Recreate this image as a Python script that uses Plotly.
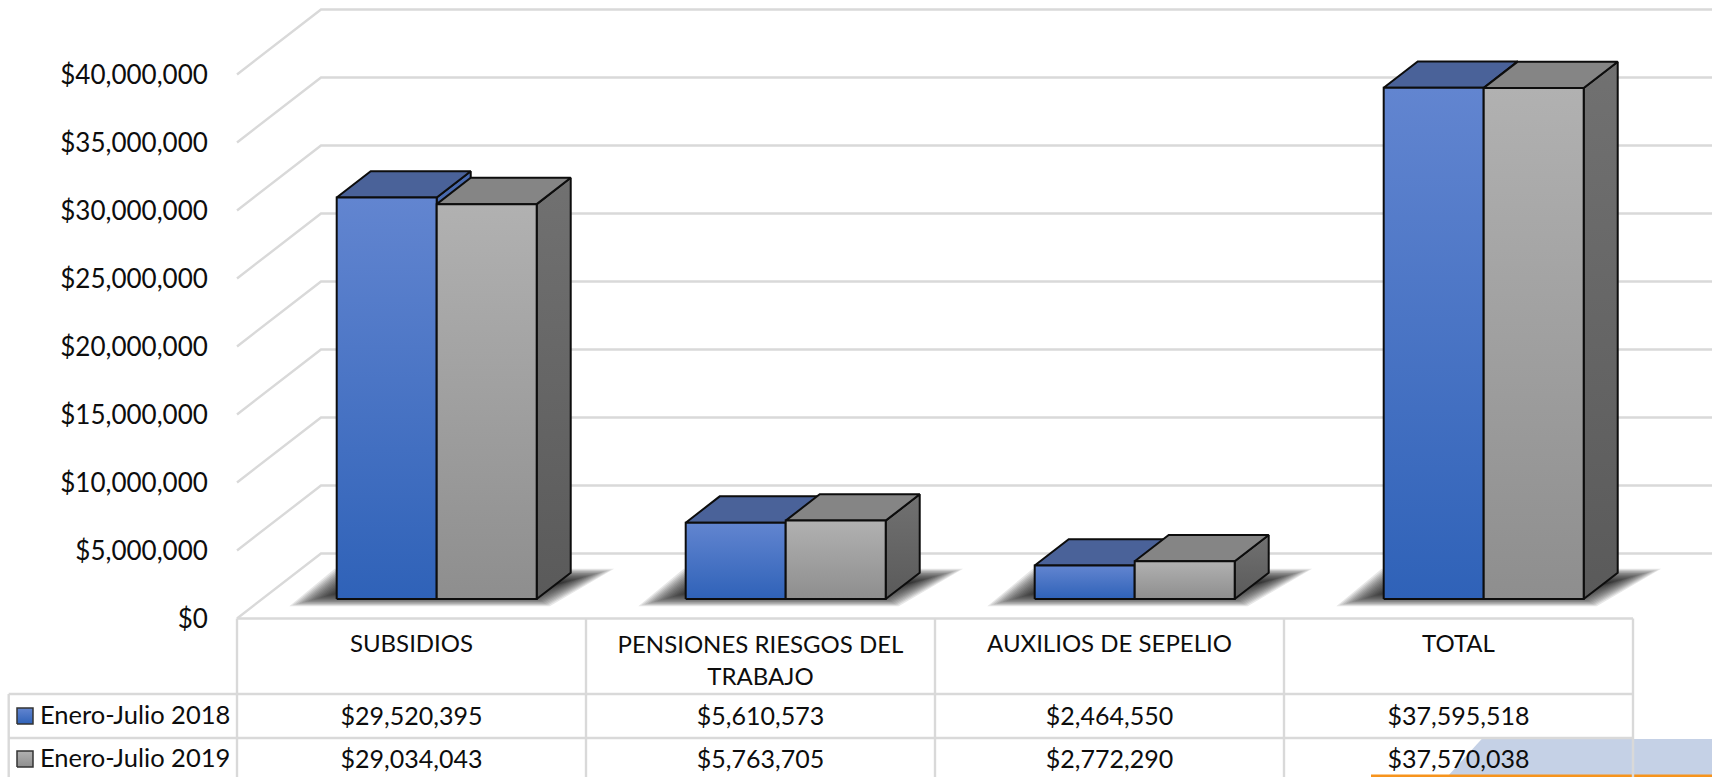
import plotly.graph_objects as go

# ---------- data ----------
categories = ["SUBSIDIOS", "PENSIONES RIESGOS DEL<br>TRABAJO", "AUXILIOS DE SEPELIO", "TOTAL"]
series_names = ["Enero-Julio 2018", "Enero-Julio 2019"]
values_2018 = [29520395, 5610573, 2464550, 37595518]
values_2019 = [29034043, 5763705, 2772290, 37570038]
axis_ticks = [0, 5e6, 10e6, 15e6, 20e6, 25e6, 30e6, 35e6, 40e6]

# ---------- projection / layout constants ----------
W, H = 1712, 777
X0, Y0 = 237.0, 618.5      # front-left floor corner in page pixels
CAT_W = 349.0              # pixels per category
PX_PER_USD = 68.0 / 5e6    # pixels per dollar
DX, DY = 84.0, 65.0        # projection of full depth
BAR_HALF = 100.0           # width of one bar, px
D_FRONT, D_BACK = 0.30, 0.705

def dx(px):
    return px / CAT_W

def dv(px):
    return px / PX_PER_USD

def ux(px):
    return (px - X0) / CAT_W

def uy(py):
    return (Y0 - py) / PX_PER_USD

def proj(x, val, d):
    return x + dx(d * DX), val + dv(d * DY)

GRID = "#D9D9D9"
INK = "#0D0D0D"
FONT = "Lato"
FS = 25

fig = go.Figure()

def poly(xs, ys, fill=None, grad=None, line=INK, width=2, name=None):
    kw = {}
    if grad:
        kw["fillgradient"] = dict(type="vertical", colorscale=[[0, grad[0]], [1, grad[1]]])
    else:
        kw["fillcolor"] = fill
    fig.add_trace(go.Scatter(
        x=list(xs) + [xs[0]], y=list(ys) + [ys[0]], mode="lines", fill="toself",
        line=dict(color=line, width=width), hoverinfo="skip", showlegend=False,
        name=name, **kw))

def stroke(xs, ys, width=2.4, color=GRID):
    fig.add_trace(go.Scatter(x=xs, y=ys, mode="lines", line=dict(color=color, width=width),
                             hoverinfo="skip", showlegend=False))

# blue-ish page decoration at the lower right corner
poly([ux(1481.7), ux(1712), ux(1712), ux(1447)], [uy(739), uy(739), uy(777), uy(777)],
     fill="#C5D1E6", line="rgba(0,0,0,0)", width=0)
stroke([ux(1371), ux(1712)], [uy(775.8), uy(775.8)], width=2.5, color="#F7941D")

# gridlines on the floor / wall
n_cat = len(categories)
for t in axis_ticks:
    bx, by = proj(0, t, 1)
    ex, ey = proj(n_cat, t, 1)
    stroke([0, bx, ex], [t, by, ey])

# shadows and bars
BLUE = dict(front=("#2F62B8", "#6285D0"), side=("#3A5A9C", "#4A6BB0"), top="#4A6299")
GRAY = dict(front=("#8E8E8E", "#B1B1B1"), side=("#5A5A5A", "#717171"), top="#858585")

for i in range(n_cat):
    cx = i + 0.5 + dx(D_FRONT * DX)
    xl, xr = cx - dx(BAR_HALF), cx + dx(BAR_HALF)
    base = dv(D_FRONT * DY)
    # soft shadow built from nested polygons
    for k in range(18):
        grow = 7 - k * 1.4
        sx = [xl + dx(-32 - grow * 2.2), xr + dx(6 + grow), xr + dx(62 + grow * 2.2), xl + dx(5 - grow)]
        sy = [base + dv(-3 - grow * .6), base + dv(-3 - grow * .6),
              base + dv(26 + grow * .6), base + dv(26 + grow * .6)]
        poly(sx, sy, fill="rgba(20,20,20,0.10)", line="rgba(0,0,0,0)", width=0)

for i in range(n_cat):
    cx = i + 0.5 + dx(D_FRONT * DX)
    xl, xm, xr = cx - dx(BAR_HALF), cx, cx + dx(BAR_HALF)
    ddx, ddv = dx((D_BACK - D_FRONT) * DX), dv((D_BACK - D_FRONT) * DY)
    base = dv(D_FRONT * DY)
    for (a, b, v, st, nm) in [(xl, xm, values_2018[i], BLUE, series_names[0]),
                              (xm, xr, values_2019[i], GRAY, series_names[1])]:
        top = base + v
        poly([b, b + ddx, b + ddx, b], [base, base + ddv, top + ddv, top], grad=st["side"])
        poly([a, b, b + ddx, a + ddx], [top, top, top + ddv, top + ddv], fill=st["top"])
        poly([a, b, b, a], [base, base, top, top], grad=st["front"], name=nm)

# data table
rows_px = [618.5, 694, 738, 790]
cols = [0, 1, 2, 3, 4]
LEFT = ux(8.7)
stroke([0, n_cat], [uy(rows_px[0])] * 2)
for r in rows_px[1:3]:
    stroke([LEFT, n_cat], [uy(r)] * 2)
stroke([LEFT, LEFT], [uy(694), uy(790)])
for c in cols:
    stroke([c, c], [uy(618.5), uy(790)])

centres = [i + 0.5 for i in range(n_cat)]
def texts(xs, ys, labels, pos="middle center", size=FS):
    fig.add_trace(go.Scatter(x=xs, y=ys, text=labels, mode="text", textposition=pos,
                             textfont=dict(family=FONT, size=size, color=INK),
                             hoverinfo="skip", showlegend=False))

fmt = lambda v: f"${v:,.0f}"
texts(centres, [uy(646 + (17 if "<br>" in c else 0)) for c in categories], categories, size=24)
texts(centres, [uy(718.5)] * n_cat, [fmt(v) for v in values_2018])
texts(centres, [uy(761.5)] * n_cat, [fmt(v) for v in values_2019])
texts([ux(40), ux(40)], [uy(718), uy(761)], series_names, pos="middle right", size=25.5)

# legend keys in the table
for py, st in [(716, BLUE), (759, GRAY)]:
    poly([ux(17), ux(33), ux(33), ux(17)], [uy(py + 8), uy(py + 8), uy(py - 8), uy(py - 8)],
         grad=st["front"], line="#333333", width=1.5)

fig.update_layout(
    width=W, height=H, autosize=False, margin=dict(l=0, r=0, t=0, b=0),
    paper_bgcolor="white", plot_bgcolor="white", showlegend=False,
    xaxis=dict(visible=False, range=[ux(0), ux(W)], domain=[0, 1], fixedrange=True),
    yaxis=dict(range=[uy(H), uy(0)], anchor="free", position=X0 / W, showgrid=False,
               zeroline=False, showline=False, tickvals=axis_ticks,
               ticktext=[fmt(t) for t in axis_ticks], ticks="outside", ticklen=24,
               tickcolor="rgba(0,0,0,0)", tickfont=dict(family=FONT, size=26, color=INK),
               fixedrange=True),
)
fig.write_html("out.html", config=dict(displayModeBar=False),
               post_script="document.body.style.margin='0';document.body.style.overflow='hidden';")
